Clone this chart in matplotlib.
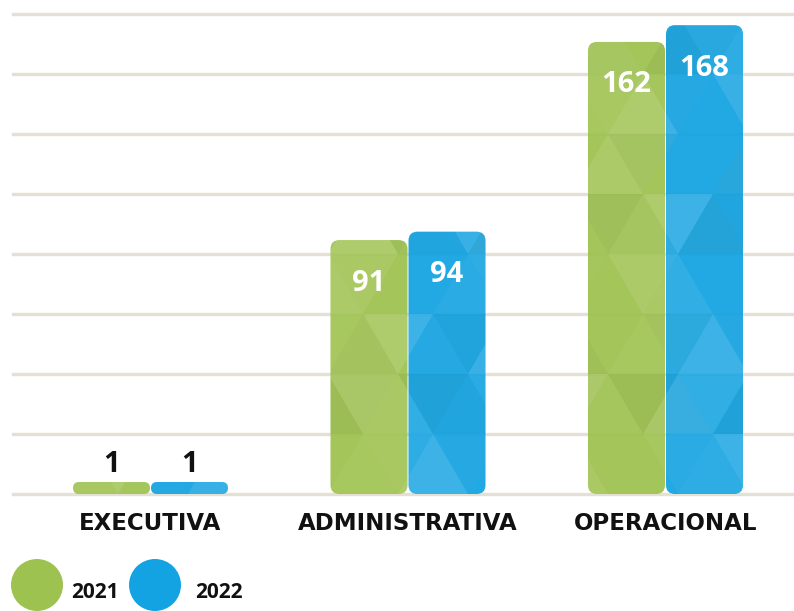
import matplotlib
matplotlib.use("Agg")
import matplotlib.pyplot as plt
from matplotlib.patches import FancyBboxPatch, Polygon, Circle
import numpy as np

categories = ["EXECUTIVA", "ADMINISTRATIVA", "OPERACIONAL"]
values_2021 = [1, 91, 162]
values_2022 = [1, 94, 168]
series_names = ["2021", "2022"]

GREEN = "#9ec24f"
BLUE = "#14a3e2"
TEXT = "#111111"
GRID = "#e4e1d4"
FONT = ["Open Sans", "DejaVu Sans"]
CAT_FONT = ["DejaVu Sans"]
WEIGHT = "bold"

W_PX, H_PX = 794, 611
fig = plt.figure(figsize=(W_PX / 100, H_PX / 100), dpi=100)
ax_left, ax_bottom, ax_w, ax_h = 13, 117, 781, 480
ax = fig.add_axes([ax_left / W_PX, ax_bottom / H_PX, ax_w / W_PX, ax_h / H_PX])

ymax = 172
xmin = -0.534
px_per_x = 257.5
xmax = xmin + ax_w / px_per_x
ax.set_xlim(xmin, xmax)
ax.set_ylim(0, ymax)
px_per_y = ax_h / ymax
sx = 1 / px_per_x
sy = 1 / px_per_y

for s in ax.spines.values():
    s.set_visible(False)
ax.set_yticks([])

for g in np.linspace(0, ymax, 9):
    ax.axhline(g, color=GRID, lw=2.4, zorder=0, clip_on=False)

bw = 77 * sx
gap = 1 * sx
min_h = 12 * sy
radius_px = 9

TRI_W, TRI_H = 70, 60
light_pattern = [0.0, 0.06, 0.02, 0.10, 0.0, 0.04, 0.12, 0.0, 0.07]
dark_pattern = [0.0, 0.0, 0.03, 0.0, 0.05, 0.0, 0.0, 0.02, 0.0]


def add_facets(x0, w, h, clip):
    left_px = (x0 - xmin) * px_per_x
    right_px = left_px + w * px_per_x
    top_px = h * px_per_y
    rows = int(top_px // TRI_H) + 2
    k0 = int(left_px // (TRI_W / 2)) - 2
    k1 = int(right_px // (TRI_W / 2)) + 2
    for r in range(rows):
        y0, y1 = r * TRI_H, (r + 1) * TRI_H
        for k in range(k0, k1):
            xc = k * TRI_W / 2
            if (k + r) % 2 == 0:
                pts = [(xc - TRI_W / 2, y0), (xc + TRI_W / 2, y0), (xc, y1)]
            else:
                pts = [(xc - TRI_W / 2, y1), (xc + TRI_W / 2, y1), (xc, y0)]
            a_l = light_pattern[(k * 5 + r * 7) % len(light_pattern)]
            a_d = dark_pattern[(k * 3 + r * 4) % len(dark_pattern)]
            data_pts = [(xmin + px * sx, py * sy) for px, py in pts]
            for a, col in ((a_l, "white"), (a_d, "#0a3a10")):
                if a > 0:
                    p = Polygon(data_pts, closed=True, facecolor=col, alpha=a,
                                edgecolor="none", zorder=3)
                    ax.add_patch(p)
                    p.set_clip_path(clip)


def draw_bar(xc, v, color):
    h = max(v, min_h)
    x0 = xc - bw / 2
    r = min(radius_px, h * px_per_y / 2) * sx
    patch = FancyBboxPatch((x0, 0), bw, h,
                           boxstyle=f"round,pad=0,rounding_size={r}",
                           mutation_aspect=px_per_x / px_per_y,
                           facecolor=color, edgecolor="none", alpha=0.94, zorder=2)
    ax.add_patch(patch)
    add_facets(x0, bw, h, patch)
    return h


xs = np.arange(len(categories))
for i, (v1, v2) in enumerate(zip(values_2021, values_2022)):
    for v, off, col in ((v1, -(bw + gap) / 2, GREEN), (v2, (bw + gap) / 2, BLUE)):
        h = draw_bar(xs[i] + off, v, col)
        if h * px_per_y > 60:
            ax.text(xs[i] + off, h - 43 * sy, str(v), ha="center", va="center",
                    color="white", fontsize=21, fontweight=WEIGHT, family=FONT, zorder=5)
        else:
            ax.text(xs[i] + off, h + 17 * sy, str(v), ha="center", va="center",
                    color=TEXT, fontsize=21, fontweight=WEIGHT, family=FONT, zorder=5)

ax.set_xticks(xs)
ax.set_xticklabels(categories, fontsize=16.5, fontweight=WEIGHT, family=CAT_FONT, color=TEXT)
ax.tick_params(axis="x", length=0, pad=13)

leg_items = [(37, GREEN, 95, series_names[0]), (155, BLUE, 219, series_names[1])]
for cx, col, tx, lab in leg_items:
    c = Circle((cx, H_PX - 585), 26, transform=None, facecolor=col, edgecolor="none")
    fig.add_artist(c)
    fig.text(tx / W_PX, (H_PX - 592) / H_PX, lab, ha="center", va="center",
             fontsize=15, fontweight=WEIGHT, family=FONT, color=TEXT)

fig.savefig("out.png", dpi=100)
